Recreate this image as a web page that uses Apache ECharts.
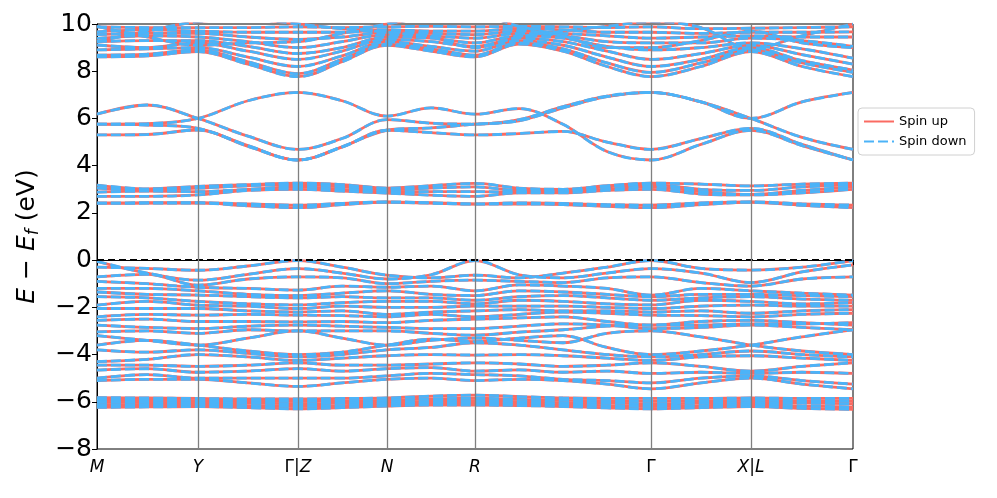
<!DOCTYPE html>
<html>
<head>
<meta charset="utf-8">
<script src="https://cdn.jsdelivr.net/npm/echarts@6/dist/echarts.min.js"></script>
<style>
html, body { margin: 0; padding: 0; background: #fff; }
#chart { width: 997px; height: 498px; }
</style>
</head>
<body>
<div id="chart"></div>
<script>
// k-path sample positions (path length units), high symmetry points and their labels
var kPath = [0, 0.5, 1.01, 1.51, 2.01, 2.45, 2.90, 3.34, 3.78, 4.22, 4.66, 5.10, 5.54, 6.04, 6.54, 7.05, 7.56];
var kTicks = [0, 1.01, 2.01, 2.90, 3.78, 5.54, 6.54, 7.56];
var kLabels = ['M', 'Y', 'Γ|Z', 'N', 'R', 'Γ', 'X|L', 'Γ'];

// energies (eV, relative to E_f) of each band at the kPath points
var deepBands = [
    [-5.82, -5.84, -5.86, -5.88, -5.88, -5.86, -5.84, -5.76, -5.72, -5.78, -5.84, -5.86, -5.86, -5.86, -5.84, -5.86, -5.86],
    [-5.92, -5.94, -5.95, -5.97, -5.98, -5.96, -5.94, -5.88, -5.85, -5.90, -5.94, -5.96, -5.97, -5.96, -5.94, -5.96, -5.97],
    [-6.02, -6.03, -6.04, -6.06, -6.08, -6.06, -6.03, -5.98, -5.95, -6.00, -6.04, -6.06, -6.08, -6.06, -6.03, -6.06, -6.08],
    [-6.12, -6.12, -6.12, -6.16, -6.20, -6.16, -6.10, -6.06, -6.05, -6.08, -6.12, -6.16, -6.20, -6.16, -6.12, -6.18, -6.22],
    [-6.24, -6.22, -6.20, -6.25, -6.30, -6.25, -6.18, -6.14, -6.14, -6.16, -6.20, -6.26, -6.30, -6.25, -6.20, -6.28, -6.32]
];

var valenceBands = [
    [-0.05, -0.55, -0.85, -0.60, -0.36, -0.55, -0.80, -0.62, -0.02, -0.62, -0.75, -0.55, -0.36, -0.55, -0.95, -0.50, -0.20],
    [-0.30, -0.35, -0.43, -0.25, -0.02, -0.30, -0.64, -0.75, -0.64, -0.75, -0.55, -0.30, -0.02, -0.35, -0.42, -0.30, -0.02],
    [-0.71, -0.60, -1.06, -0.80, -0.71, -0.75, -1.00, -0.90, -0.85, -0.90, -0.95, -0.75, -0.71, -0.95, -1.10, -0.80, -0.71],
    [-0.90, -1.00, -1.15, -1.20, -1.27, -1.10, -1.15, -1.10, -1.30, -1.05, -1.10, -1.20, -1.48, -1.20, -1.30, -1.40, -1.48],
    [-1.20, -1.20, -1.30, -1.45, -1.50, -1.40, -1.30, -1.45, -1.50, -1.30, -1.35, -1.45, -1.55, -1.45, -1.45, -1.50, -1.55],
    [-1.35, -1.45, -1.48, -1.55, -1.60, -1.55, -1.60, -1.60, -1.70, -1.55, -1.50, -1.60, -1.70, -1.60, -1.55, -1.65, -1.70],
    [-1.55, -1.60, -1.75, -1.85, -1.90, -1.80, -1.75, -1.75, -1.85, -1.70, -1.75, -1.85, -1.90, -1.70, -1.75, -1.85, -1.80],
    [-1.91, -1.75, -1.91, -1.95, -2.05, -1.95, -2.00, -2.00, -1.95, -1.95, -1.95, -2.00, -2.05, -1.95, -1.91, -1.95, -1.95],
    [-2.05, -2.05, -2.05, -2.15, -2.20, -2.15, -2.30, -2.20, -2.15, -2.10, -2.15, -2.15, -2.20, -2.15, -2.25, -2.15, -2.10],
    [-2.40, -2.30, -2.33, -2.30, -2.33, -2.35, -2.40, -2.30, -2.40, -2.30, -2.20, -2.25, -2.33, -2.35, -2.40, -2.30, -2.25],
    [-2.55, -2.50, -2.60, -2.60, -2.62, -2.60, -2.65, -2.55, -2.50, -2.45, -2.40, -2.60, -2.75, -2.60, -2.55, -2.65, -2.75],
    [-2.75, -2.85, -2.90, -2.80, -2.75, -2.80, -2.85, -2.90, -2.90, -2.80, -2.70, -2.75, -2.90, -2.85, -2.75, -2.85, -2.95],
    [-3.04, -3.00, -3.10, -2.95, -3.00, -3.00, -3.00, -3.10, -3.18, -3.05, -2.95, -2.80, -2.75, -2.75, -2.70, -2.70, -2.65],
    [-3.20, -3.40, -3.60, -3.30, -3.00, -3.30, -3.60, -3.40, -3.30, -3.40, -3.50, -3.10, -3.00, -3.25, -3.60, -3.85, -4.00],
    [-3.60, -3.40, -3.60, -3.85, -4.00, -3.90, -3.60, -3.35, -3.45, -3.30, -3.20, -3.70, -4.00, -3.85, -3.60, -3.25, -2.95],
    [-3.80, -3.90, -3.80, -3.95, -4.10, -4.00, -3.80, -3.70, -3.50, -3.60, -3.80, -4.00, -4.10, -4.00, -3.85, -4.00, -4.10],
    [-4.30, -4.20, -4.00, -4.10, -4.25, -4.15, -4.05, -4.00, -4.02, -4.00, -4.05, -4.15, -4.25, -4.10, -4.05, -4.15, -4.25],
    [-4.45, -4.45, -4.50, -4.45, -4.35, -4.45, -4.45, -4.40, -4.35, -4.40, -4.50, -4.45, -4.35, -4.50, -4.70, -4.50, -4.35],
    [-4.66, -4.60, -4.75, -4.70, -4.60, -4.70, -4.60, -4.55, -4.70, -4.65, -4.75, -4.70, -4.80, -4.75, -4.80, -4.75, -4.80],
    [-5.00, -4.85, -5.00, -5.00, -5.00, -5.00, -4.90, -4.80, -4.85, -4.90, -5.05, -5.10, -5.20, -5.00, -4.90, -5.10, -5.25],
    [-5.10, -5.05, -5.05, -5.20, -5.35, -5.20, -5.05, -5.00, -5.10, -5.05, -5.10, -5.25, -5.45, -5.20, -5.00, -5.25, -5.45]
];

var condBands = [
    [3.18, 3.02, 3.12, 3.20, 3.26, 3.20, 3.05, 3.15, 3.25, 3.05, 3.00, 3.15, 3.26, 3.22, 3.14, 3.22, 3.26],
    [3.05, 2.98, 3.05, 3.15, 3.20, 3.10, 2.98, 3.05, 3.10, 2.95, 2.95, 3.10, 3.20, 3.00, 2.95, 3.10, 3.20],
    [2.88, 2.92, 2.90, 3.00, 3.10, 3.00, 2.90, 2.90, 2.90, 2.88, 2.90, 3.00, 3.10, 2.90, 2.78, 2.95, 3.10],
    [2.70, 2.70, 2.76, 2.95, 3.00, 2.92, 2.84, 2.75, 2.70, 2.85, 2.85, 2.95, 3.00, 2.80, 2.76, 2.85, 3.00],
    [2.42, 2.43, 2.43, 2.38, 2.33, 2.40, 2.47, 2.43, 2.38, 2.42, 2.40, 2.35, 2.33, 2.42, 2.47, 2.38, 2.33],
    [2.40, 2.41, 2.42, 2.30, 2.22, 2.35, 2.45, 2.41, 2.37, 2.38, 2.35, 2.28, 2.22, 2.35, 2.45, 2.32, 2.22]
];

var midBands = [
    [6.18, 6.57, 6.00, 5.25, 4.69, 5.15, 5.95, 5.80, 5.76, 5.95, 6.50, 6.95, 7.10, 6.70, 6.00, 6.70, 7.10],
    [5.76, 5.78, 6.00, 6.75, 7.10, 6.75, 6.10, 6.45, 6.18, 6.42, 5.75, 4.60, 4.24, 4.90, 5.50, 4.85, 4.24],
    [5.76, 5.72, 5.58, 4.85, 4.24, 4.80, 5.50, 5.60, 5.76, 5.90, 6.45, 6.92, 7.10, 6.70, 6.00, 5.20, 4.69],
    [5.30, 5.32, 5.51, 4.82, 4.24, 4.78, 5.50, 5.40, 5.30, 5.36, 5.45, 5.00, 4.69, 5.15, 5.58, 4.90, 4.24]
];

var upperBands = [
    [8.61, 8.65, 8.83, 8.30, 7.77, 8.40, 9.10, 8.85, 8.61, 9.15, 8.85, 8.20, 7.77, 8.20, 8.83, 8.20, 7.77],
    [8.68, 8.72, 8.90, 8.40, 7.90, 8.50, 9.15, 8.95, 8.68, 9.20, 8.95, 8.35, 7.95, 8.35, 8.90, 8.35, 7.95],
    [8.90, 8.95, 9.00, 8.60, 8.20, 8.65, 9.25, 9.05, 8.85, 9.30, 9.10, 8.60, 8.20, 8.50, 9.00, 8.45, 8.05],
    [9.11, 9.00, 9.20, 8.85, 8.50, 8.85, 9.35, 9.25, 9.05, 9.40, 9.25, 8.85, 8.50, 8.75, 9.10, 8.70, 8.30],
    [9.25, 9.30, 9.30, 9.05, 8.75, 9.00, 9.45, 9.40, 9.20, 9.50, 9.40, 9.05, 8.90, 9.00, 9.20, 8.95, 8.55],
    [9.39, 9.50, 9.45, 9.25, 9.00, 9.25, 9.55, 9.50, 9.40, 9.60, 9.50, 9.25, 9.20, 9.20, 9.40, 9.30, 9.05],
    [9.55, 9.60, 9.60, 9.45, 9.35, 9.45, 9.65, 9.60, 9.55, 9.70, 9.60, 9.50, 9.40, 9.45, 9.50, 9.45, 9.45],
    [9.67, 9.75, 9.70, 9.65, 9.65, 9.65, 9.75, 9.70, 9.70, 9.80, 9.75, 9.65, 9.65, 9.60, 9.65, 9.65, 9.67],
    [9.88, 9.85, 9.85, 9.85, 9.88, 9.85, 9.88, 9.90, 9.88, 9.90, 9.88, 9.85, 9.88, 9.80, 9.82, 9.85, 9.88],
    [9.90, 9.45, 9.10, 9.20, 9.25, 9.60, 10.0, 10.3, 10.4, 9.90, 9.50, 9.00, 9.00, 9.30, 9.70, 9.20, 9.00],
    [9.25, 9.70, 10.1, 10.2, 10.0, 9.80, 9.65, 9.45, 9.00, 9.45, 9.70, 9.90, 10.1, 9.85, 8.95, 9.50, 10.0]
];

var upColor = '#fa6b62';
var downColor = '#4cb3f8';
var font = 'DejaVu Sans';

function toPairs(band) {
    return band.map(function (e, i) { return [kPath[i], e]; });
}

// matplotlib mathtext look: latin letters italic, Γ and | upright
function richLabel(s) {
    return s.split('').map(function (c) {
        return (c === 'Γ' || c === '|') ? '{u|' + c + '}' : '{i|' + c + '}';
    }).join('');
}

var allBands = deepBands.concat(valenceBands, condBands, midBands, upperBands);
var series = [];

allBands.forEach(function (band) {
    series.push({
        name: 'Spin up',
        type: 'line',
        data: toPairs(band),
        smooth: 0.35,
        symbol: 'none',
        silent: true,
        itemStyle: { color: upColor },
        lineStyle: { color: upColor, width: 2.8, type: 'solid' }
    });
});
allBands.forEach(function (band) {
    series.push({
        name: 'Spin down',
        type: 'line',
        data: toPairs(band),
        smooth: 0.35,
        symbol: 'none',
        silent: true,
        itemStyle: { color: downColor },
        lineStyle: { color: downColor, width: 2.8, type: [10, 4] }
    });
});

// Fermi level and high-symmetry lines
series.push({
    name: 'fermi',
    type: 'line',
    z: 4,
    data: [[kTicks[0], 0], [kTicks[kTicks.length - 1], 0]],
    symbol: 'none',
    silent: true,
    lineStyle: { color: '#000', width: 2, type: [7, 4] },
    markLine: {
        silent: true,
        symbol: ['none', 'none'],
        label: { show: false },
        lineStyle: { color: '#808080', width: 1.3, type: 'solid' },
        data: kTicks.slice(1, -1).map(function (v) { return { xAxis: v }; })
    }
});

var chart = echarts.init(document.getElementById('chart'));
chart.setOption({
    animation: false,
    backgroundColor: '#fff',
    grid: {
        left: 97, right: 144, top: 24, bottom: 49,
        show: true, borderColor: '#000', borderWidth: 1
    },
    legend: {
        data: ['Spin up', 'Spin down'],
        orient: 'vertical',
        left: 858,
        top: 108,
        itemWidth: 30,
        itemHeight: 10,
        itemGap: 7,
        padding: [7, 8, 7, 5],
        borderColor: '#d0d0d0',
        borderWidth: 1,
        borderRadius: 4,
        backgroundColor: '#fff',
        itemStyle: { opacity: 0 },
        textStyle: { fontFamily: font, fontSize: 13, color: '#000' }
    },
    xAxis: {
        type: 'value',
        min: kTicks[0],
        max: kTicks[kTicks.length - 1],
        axisLine: { lineStyle: { color: '#000', width: 1 } },
        axisTick: { customValues: kTicks, length: 5, lineStyle: { color: '#000' } },
        splitLine: { show: false },
        axisLabel: {
            customValues: kTicks,
            margin: 10,
            formatter: function (v) {
                for (var i = 0; i < kTicks.length; i++) {
                    if (Math.abs(kTicks[i] - v) < 1e-6) return richLabel(kLabels[i]);
                }
                return '';
            },
            rich: {
                i: { fontFamily: font, fontSize: 17, fontStyle: 'italic', color: '#000' },
                u: { fontFamily: font, fontSize: 17, color: '#000' }
            }
        }
    },
    yAxis: {
        type: 'value',
        min: -8,
        max: 10,
        interval: 2,
        axisLine: { show: true, lineStyle: { color: '#000', width: 1 } },
        axisTick: { show: true, length: 5, lineStyle: { color: '#000' } },
        splitLine: { show: false },
        axisLabel: {
            fontFamily: font,
            fontSize: 25,
            color: '#000',
            margin: 5,
            formatter: function (v) { return v < 0 ? '\u2212' + Math.abs(v) : String(v); }
        },
        name: '{e|E}{n| \u2212 }{e|E}{s|f}{n| (eV)}',
        nameLocation: 'middle',
        nameRotate: 90,
        nameGap: 55,
        nameTextStyle: {
            rich: {
                e: { fontFamily: font, fontSize: 25, fontStyle: 'italic', color: '#000' },
                n: { fontFamily: font, fontSize: 25, color: '#000' },
                s: { fontFamily: font, fontSize: 17, fontStyle: 'italic', color: '#000', padding: [12, 0, 0, 0] }
            }
        }
    },
    series: series
});
</script>
</body>
</html>
